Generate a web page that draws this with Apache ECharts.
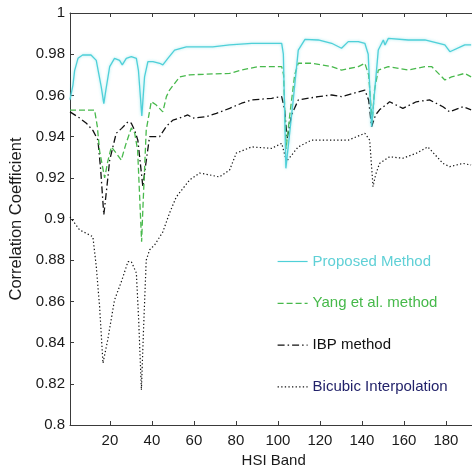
<!DOCTYPE html>
<html>
<head>
<meta charset="utf-8">
<script src="https://cdn.jsdelivr.net/npm/echarts@6/dist/echarts.min.js"></script>
<style>
  html, body { margin: 0; padding: 0; background: #fff; }
  #chart { width: 472px; height: 468px; }
</style>
</head>
<body>
<div id="chart"></div>
<script>
// Correlation coefficient per HSI band for four super-resolution methods
const xTicks = [20, 40, 60, 80, 100, 120, 140, 160, 180];

const proposedBands = [1, 2.4, 3.2, 4.8, 7, 11, 13.5, 15.9, 17.1, 18.3, 19.9, 22.2, 24.6, 25.9, 27.8, 30.2, 32.6, 33.6, 35.2, 36.5, 38.1, 40.5, 43.7, 45.2, 47.6, 50.8, 56.4, 69, 77, 87.5, 101.8, 102.6, 103.8, 107.3, 109.7, 112.9, 119.2, 125.6, 130.3, 133.5, 138.3, 141.4, 143, 144.6, 147.8, 150.2, 151, 152.6, 162.1, 170, 179.5, 181.9, 189, 192];
const proposedValues = [0.958, 0.965, 0.972, 0.978, 0.9796, 0.9796, 0.977, 0.964, 0.956, 0.964, 0.974, 0.978, 0.977, 0.9748, 0.978, 0.9788, 0.978, 0.972, 0.950, 0.969, 0.9764, 0.9764, 0.9756, 0.9748, 0.978, 0.982, 0.9836, 0.9836, 0.9845, 0.9853, 0.9853, 0.980, 0.9246, 0.9578, 0.982, 0.9872, 0.9869, 0.9853, 0.9829, 0.9861, 0.9861, 0.9853, 0.980, 0.9448, 0.982, 0.9869, 0.9845, 0.9877, 0.9869, 0.9869, 0.9845, 0.9812, 0.9845, 0.9845];

const yangBands = [1, 12.7, 14, 15.1, 17.5, 19, 20.7, 23, 25.4, 27.5, 30.2, 31.8, 33.2, 35.1, 35.7, 37.3, 39.7, 42.1, 45.2, 46.9, 48.4, 53.2, 58, 77, 82.7, 90.7, 101.8, 102.7, 103.9, 105.6, 108, 109.7, 116, 125.6, 130.3, 138.3, 141.4, 143.2, 144.9, 146, 147.8, 152.6, 162.1, 170, 173.2, 179.5, 182.7, 189, 192];
const yangValues = [0.9529, 0.9529, 0.945, 0.933, 0.920, 0.928, 0.935, 0.932, 0.9286, 0.936, 0.9442, 0.9417, 0.9335, 0.889, 0.905, 0.9432, 0.957, 0.9553, 0.952, 0.9594, 0.9626, 0.969, 0.970, 0.9707, 0.9723, 0.974, 0.974, 0.970, 0.934, 0.950, 0.970, 0.9756, 0.9756, 0.974, 0.9723, 0.974, 0.9756, 0.970, 0.947, 0.9626, 0.9723, 0.974, 0.9723, 0.974, 0.974, 0.9675, 0.969, 0.9707, 0.969];

const ibpBands = [1, 5.6, 8.8, 11.9, 14.3, 15.6, 17.1, 18.4, 19.9, 23, 25.6, 28.6, 30.2, 31.8, 33.3, 34.6, 35.7, 37, 38.9, 43.7, 46.9, 50, 53.2, 57.1, 59.5, 65.9, 70.7, 77, 82.7, 87.5, 97, 101.8, 103.2, 104.4, 106.5, 109.7, 119.2, 125.6, 130.3, 141.4, 143.2, 144.6, 146.5, 148.4, 153.2, 159.5, 165.9, 172.2, 178.6, 181.8, 188.1, 192];
const ibpValues = [0.952, 0.949, 0.9465, 0.943, 0.9383, 0.924, 0.902, 0.914, 0.9286, 0.9416, 0.944, 0.9472, 0.9465, 0.943, 0.9383, 0.926, 0.9157, 0.926, 0.940, 0.940, 0.945, 0.948, 0.949, 0.9505, 0.949, 0.9497, 0.9513, 0.9537, 0.9562, 0.9578, 0.9586, 0.9594, 0.953, 0.939, 0.9505, 0.9578, 0.9594, 0.9602, 0.9594, 0.9626, 0.9578, 0.9448, 0.9505, 0.953, 0.9569, 0.9537, 0.9569, 0.9578, 0.9545, 0.952, 0.9545, 0.953];

const bicubicBands = [1, 5.6, 11.9, 13.5, 15.1, 16.7, 17.5, 18.9, 22.2, 25.6, 28.6, 30.2, 32.6, 33.7, 35, 36, 37.3, 38.9, 41.3, 45.2, 48.4, 51.6, 58, 62.7, 67.5, 72.2, 77, 80.2, 87.5, 97, 101.8, 104.1, 106.5, 109.7, 116, 125.6, 133.5, 141.4, 143.7, 145.3, 146.5, 148.4, 153.2, 159.5, 165.9, 171.4, 178.6, 181.8, 188.1, 192];
const bicubicValues = [0.901, 0.8947, 0.8914, 0.877, 0.8574, 0.830, 0.8291, 0.841, 0.8607, 0.870, 0.8793, 0.8793, 0.8738, 0.851, 0.817, 0.846, 0.880, 0.885, 0.8874, 0.8937, 0.9029, 0.9107, 0.919, 0.9223, 0.9214, 0.9204, 0.9238, 0.932, 0.935, 0.9343, 0.9367, 0.928, 0.931, 0.935, 0.9383, 0.9383, 0.9383, 0.9416, 0.9383, 0.9157, 0.9214, 0.927, 0.9302, 0.9295, 0.9319, 0.935, 0.927, 0.9254, 0.927, 0.9262];

const zip = (xs, ys) => xs.map((x, i) => [x, ys[i]]);

const FONT = 'Liberation Sans';
const axisColor = '#3a3a3a';

const chart = echarts.init(document.getElementById('chart'), null, { renderer: 'canvas' });

const xCommon = {
  type: 'value',
  min: 1,
  max: 195,
  splitLine: { show: false },
  axisLine: { show: true, lineStyle: { color: axisColor, width: 1 } },
  axisTick: { show: true, inside: true, length: 4, customValues: xTicks, lineStyle: { color: axisColor } }
};

chart.setOption({
  animation: false,
  backgroundColor: '#ffffff',
  grid: { left: 70, top: 13, width: 407.4, height: 412, containLabel: false, outerBoundsMode: 'none' },
  legend: {
    orient: 'vertical',
    left: 272,
    top: 249,
    itemWidth: 30,
    itemHeight: 14,
    itemGap: 26.8,
    // line-only legend samples: hide the marker drawn on top of each sample
    itemStyle: { opacity: 0 },
    lineStyle: { width: 1.2 },
    textStyle: { fontFamily: FONT, fontSize: 15 },
    data: [
      { name: 'Proposed Method', textStyle: { color: '#5fd0d6' } },
      { name: 'Yang et al. method', textStyle: { color: '#46b94a' } },
      { name: 'IBP method', textStyle: { color: '#111111' } },
      { name: 'Bicubic Interpolation', textStyle: { color: '#22226a' } }
    ]
  },
  xAxis: [
    Object.assign({}, xCommon, {
      position: 'bottom',
      name: 'HSI Band',
      nameLocation: 'middle',
      nameGap: 28,
      nameTextStyle: { fontFamily: FONT, fontSize: 15, color: '#1a1a1a' },
      axisLabel: { show: true, customValues: xTicks, margin: 8, fontFamily: FONT, fontSize: 15, color: '#1a1a1a' }
    }),
    Object.assign({}, xCommon, {
      position: 'top',
      axisLabel: { show: false }
    })
  ],
  yAxis: {
    type: 'value',
    min: 0.8,
    max: 1,
    interval: 0.02,
    name: 'Correlation Coefficient',
    nameLocation: 'middle',
    nameRotate: 90,
    nameGap: 39,
    nameTextStyle: { fontFamily: FONT, fontSize: 16.5, color: '#1a1a1a' },
    splitLine: { show: false },
    axisLine: { show: true, lineStyle: { color: axisColor, width: 1 } },
    axisTick: { show: true, inside: true, length: 4, lineStyle: { color: axisColor } },
    axisLabel: {
      margin: 5,
      fontFamily: FONT,
      fontSize: 15,
      color: '#1a1a1a',
      formatter: v => String(+v.toFixed(2))
    }
  },
  series: [
    {
      name: 'Bicubic Interpolation',
      type: 'line',
      symbol: 'none',
      data: zip(bicubicBands, bicubicValues),
      lineStyle: { color: '#111111', width: 1.2, type: [1.3, 2.3] },
      itemStyle: { color: '#111111' },
      z: 2
    },
    {
      name: 'IBP method',
      type: 'line',
      symbol: 'none',
      data: zip(ibpBands, ibpValues),
      lineStyle: { color: '#111111', width: 1.3, type: [7, 3, 1.5, 3] },
      itemStyle: { color: '#111111' },
      z: 3
    },
    {
      name: 'Yang et al. method',
      type: 'line',
      symbol: 'none',
      data: zip(yangBands, yangValues),
      lineStyle: { color: '#48b94c', width: 1.3, type: [6, 3] },
      itemStyle: { color: '#48b94c' },
      z: 4
    },
    {
      name: 'Proposed Method',
      type: 'line',
      symbol: 'none',
      data: zip(proposedBands, proposedValues),
      lineStyle: { color: '#4fd0d8', width: 1.3, shadowBlur: 3, shadowColor: 'rgba(90,215,225,0.6)' },
      itemStyle: { color: '#4fd0d8' },
      z: 5
    }
  ]
});
</script>
</body>
</html>
